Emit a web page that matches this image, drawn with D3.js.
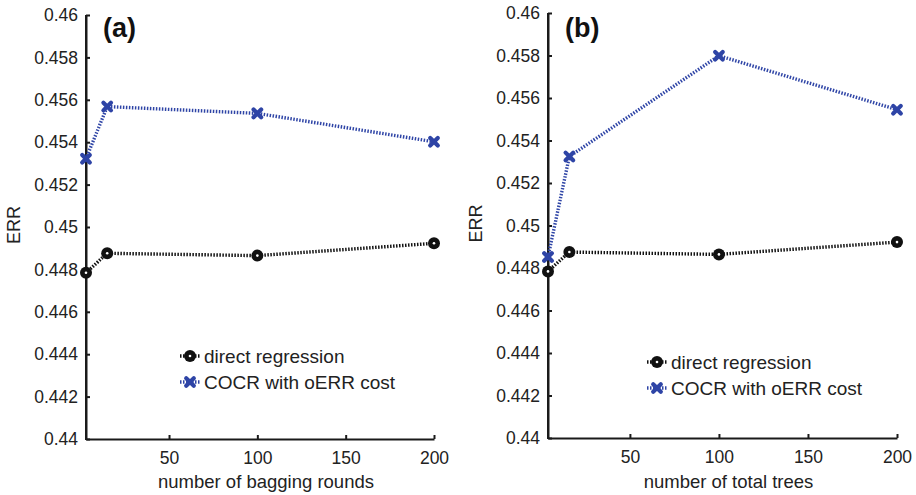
<!DOCTYPE html>
<html>
<head>
<meta charset="utf-8">
<script src="https://cdn.jsdelivr.net/npm/d3@7"></script>
<style>
  html, body { margin: 0; padding: 0; background: #fff; }
  svg { display: block; font-family: "Liberation Sans", Arial, Helvetica, sans-serif; }
</style>
</head>
<body>
<svg id="chart" width="916" height="495"></svg>
<script>
// ---- data ----
const seriesNames = ["direct regression", "COCR with oERR cost"];
const xA = [3, 15, 100, 200];
const directA = [0.44784, 0.44876, 0.44865, 0.44923];
const cocrA = [0.45322, 0.45568, 0.45536, 0.45402];
const xB = [4, 16, 100, 200];
const directB = [0.44784, 0.44875, 0.44864, 0.44922];
const cocrB = [0.44852, 0.45325, 0.45799, 0.45545];
const xTicks = [50, 100, 150, 200];
const yTicks = [0.44, 0.442, 0.444, 0.446, 0.448, 0.45, 0.452, 0.454, 0.456, 0.458, 0.46];
const panelTitles = ["(a)", "(b)"];
const xLabels = ["number of bagging rounds", "number of total trees"];
const yLabel = "ERR";

const BLUE = "#2e44a6";
const BLACK = "#111";

const panels = [
  { x: xA, d: directA, c: cocrA, xmin: 3, left: 86, right: 434, top: 15, bottom: 439,
    title: panelTitles[0], xlabel: xLabels[0], legX: 190, legY: 356 },
  { x: xB, d: directB, c: cocrB, xmin: 4, left: 548, right: 897, top: 13, bottom: 438,
    title: panelTitles[1], xlabel: xLabels[1], legX: 657, legY: 362 }
];

const svg = d3.select("#chart");

function drawCircle(g, x, y) {
  g.append("circle").attr("cx", x).attr("cy", y).attr("r", 6).attr("fill", BLACK);
  g.append("circle").attr("cx", x).attr("cy", y).attr("r", 1.3).attr("fill", "#fff");
}
function drawX(g, x, y) {
  const s = 3.8;
  g.append("path")
    .attr("d", `M${x - s},${y - s}L${x + s},${y + s}M${x - s},${y + s}L${x + s},${y - s}`)
    .attr("stroke", BLUE).attr("stroke-width", 4.2).attr("stroke-linecap", "round").attr("fill", "none");
}

panels.forEach(p => {
  const g = svg.append("g");
  const xs = d3.scaleLinear().domain([p.xmin, 200]).range([p.left, p.right]);
  const ys = d3.scaleLinear().domain([0.44, 0.46]).range([p.bottom, p.top]);

  const yAx = g.append("g").attr("transform", `translate(${p.left},0)`)
    .call(d3.axisLeft(ys).tickValues(yTicks).tickSizeInner(-4).tickSizeOuter(0)
      .tickPadding(8).tickFormat(d => String(+d.toFixed(3))));
  const xAx = g.append("g").attr("transform", `translate(0,${p.bottom})`)
    .call(d3.axisBottom(xs).tickValues(xTicks).tickSizeInner(-4).tickSizeOuter(0)
      .tickPadding(10).tickFormat(d3.format("d")));
  [yAx, xAx].forEach(a => {
    a.select(".domain").attr("stroke", "#1a1a1a").attr("stroke-width", 2);
    a.selectAll(".tick line").attr("stroke", "#1a1a1a").attr("stroke-width", 2);
    a.selectAll("text").attr("font-size", 17.5).attr("fill", "#222")
      .attr("font-family", '"Liberation Sans", Arial, sans-serif');
  });
  xAx.selectAll(".tick text").attr("dy", "0.85em");
  g.append("line").attr("x1", p.left).attr("x2", p.left).attr("y1", p.top).attr("y2", p.bottom + 1)
    .attr("stroke", "#1a1a1a").attr("stroke-width", 2);

  g.append("text").attr("transform", `translate(${p.left - 71},${(p.top + p.bottom) / 2 - 2}) rotate(-90)`)
    .attr("text-anchor", "middle").attr("dominant-baseline", "middle")
    .attr("font-size", 18).attr("fill", "#222").text(yLabel);
  g.append("text").attr("x", (p.left + p.right) / 2 + 6).attr("y", 488)
    .attr("text-anchor", "middle").attr("font-size", 18.5).attr("fill", "#222").text(p.xlabel);
  g.append("text").attr("x", p.left + 17).attr("y", 37)
    .attr("font-size", 27).attr("font-weight", "bold").attr("fill", "#111").text(p.title);

  const line = d3.line().x((d, i) => xs(p.x[i])).y(d => ys(d));
  g.append("path").datum(p.d).attr("d", line).attr("fill", "none")
    .attr("stroke", BLACK).attr("stroke-width", 3.4).attr("stroke-dasharray", "1.5,1.5");
  g.append("path").datum(p.c).attr("d", line).attr("fill", "none")
    .attr("stroke", BLUE).attr("stroke-width", 3.4).attr("stroke-dasharray", "1.5,1.5");
  p.d.forEach((v, i) => drawCircle(g, xs(p.x[i]), ys(v)));
  p.c.forEach((v, i) => drawX(g, xs(p.x[i]), ys(v)));

  const rows = [
    { name: seriesNames[0], color: BLACK, m: drawCircle },
    { name: seriesNames[1], color: BLUE, m: drawX }
  ];
  rows.forEach((r, i) => {
    const cy = p.legY + i * 26;
    g.append("line").attr("x1", p.legX - 10).attr("x2", p.legX + 10).attr("y1", cy).attr("y2", cy)
      .attr("stroke", r.color).attr("stroke-width", 3.4).attr("stroke-dasharray", "1.5,1.5");
    r.m(g, p.legX, cy);
    g.append("text").attr("x", p.legX + 14).attr("y", cy).attr("dy", "0.35em")
      .attr("font-size", 19).attr("fill", "#222").text(r.name);
  });
});
</script>
</body>
</html>
